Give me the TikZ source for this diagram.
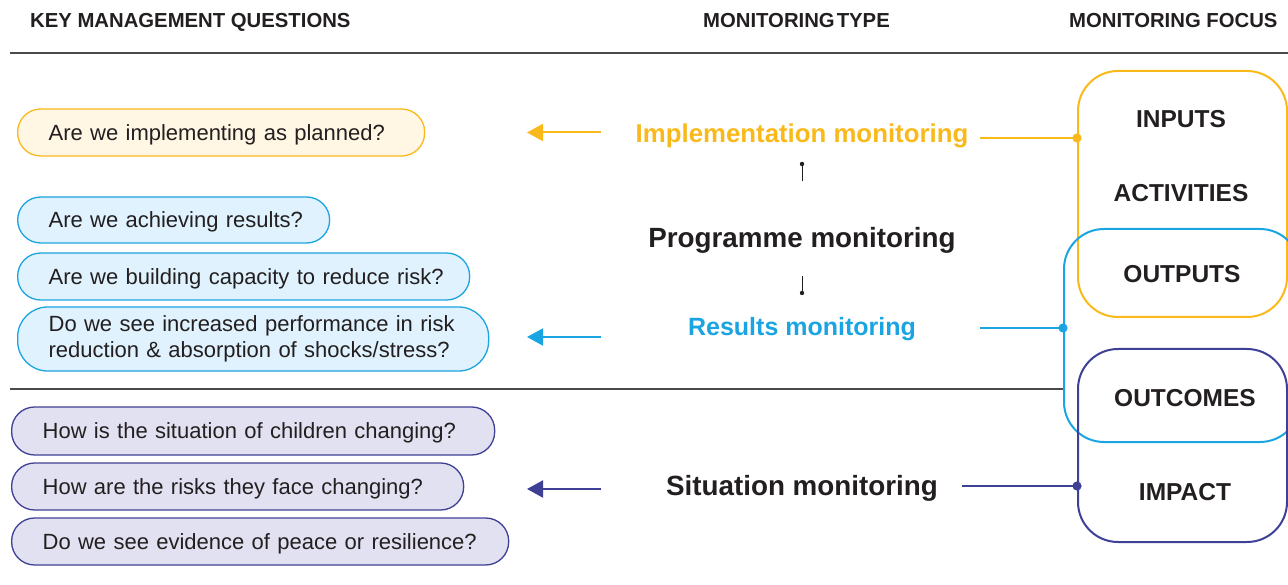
\documentclass[tikz,border=0pt]{standalone}
\usepackage{fontspec}
\setmainfont{Liberation Sans}
\usetikzlibrary{arrows.meta}
\definecolor{uyel}{HTML}{F9B91B}
\definecolor{uyelfill}{HTML}{FFF6E3}
\definecolor{ublue}{HTML}{1AA5E2}
\definecolor{ubluefill}{HTML}{DFF2FD}
\definecolor{upur}{HTML}{3E4095}
\definecolor{upurfill}{HTML}{E2E1F1}
\definecolor{qtext}{HTML}{231F20}
\definecolor{rulegray}{HTML}{4A4A4A}
\begin{document}
\begin{tikzpicture}[x=1pt,y=-1pt,
  hd/.style={font=\bfseries\fontsize{20.3}{22}\selectfont, anchor=base west, inner sep=0, text=qtext},
  qbox/.style={draw, rounded corners=23, anchor=west, align=left, inner xsep=31, inner ysep=0,
     font=\fontsize{22}{26}\selectfont, text=qtext, line width=1.3, text depth=0pt},
  ybox/.style={qbox, draw=uyel, fill=uyelfill},
  bbox/.style={qbox, draw=ublue, fill=ubluefill},
  pbox/.style={qbox, draw=upur, fill=upurfill},
  mt/.style={inner sep=0, anchor=base},
  focus/.style={draw, rounded corners=40, line width=2, inner sep=0},
  rl/.style={font=\bfseries\fontsize{24.5}{28}\selectfont, inner sep=0, text=qtext, anchor=base},
  qarrow/.style={line width=2, -{Triangle[length=16pt, width=17pt]}},
  link/.style={line width=2},
]
\useasboundingbox (0,0) rectangle (1288,585);
\clip (0,0) rectangle (1288,585);

% headers
\node[hd] (h1) at (30,28) {KEY MANAGEMENT QUESTIONS};
\node[hd] (h2) at (703,28) {MONITORING\hspace{2pt}TYPE};
\node[hd] (h3) at (1069,28) {MONITORING FOCUS};
\draw[rulegray, line width=1.5] (10,53) -- (1288,53);

% focus boxes
\node[focus, draw=uyel, minimum width=209, minimum height=246] (fy) at (1182.5,194) {};
\node[focus, draw=ublue, minimum width=236, minimum height=213] (fb) at (1182,335.5) {};
\node[focus, draw=upur, minimum width=209, minimum height=193] (fp) at (1182.5,445.5) {};

\node[rl] (inputs) at (1181,127.5) {INPUTS};
\node[rl] (activities) at (1181,201.5) {ACTIVITIES};
\node[rl] (outputs) at (1182,282.5) {OUTPUTS};
\node[rl] (outcomes) at (1185,406.5) {OUTCOMES};
\node[rl] (impact) at (1185,500.5) {IMPACT};

% middle rule
\draw[rulegray, line width=1.2] (10,389) -- (10,389 -| fb.west);

% questions
\node[ybox, minimum width=407, minimum height=47, text width=345] (q1) at (17,132.5) {\mbox{Are we implementing as planned?}};
\node[bbox, minimum width=312, minimum height=46, text width=250] (q2) at (17,220) {\mbox{Are we achieving results?}};
\node[bbox, minimum width=452, minimum height=47, text width=390] (q3) at (17,276.5) {\mbox{Are we building capacity to reduce risk?}};
\node[bbox, rounded corners=30, minimum width=471, minimum height=64, text width=409, text depth=] (q4) at (17,339) {\mbox{Do we see increased performance in risk}\\\mbox{reduction \& absorption of shocks/stress?}};
\node[pbox, minimum width=483, minimum height=48, text width=421] (q5) at (11,431) {\mbox{How is the situation of children changing?}};
\node[pbox, minimum width=452, minimum height=47, text width=390] (q6) at (11,486.5) {\mbox{How are the risks they face changing?}};
\node[pbox, minimum width=497, minimum height=47, text width=435] (q7) at (11,541.5) {\mbox{Do we see evidence of peace or resilience?}};

% monitoring types
\node[mt, text=uyel, font=\bfseries\fontsize{25.8}{30}\selectfont] (impl) at (802,142.5) {Implementation monitoring};
\node[mt, text=qtext, font=\bfseries\fontsize{27.8}{30}\selectfont] (prog) at (802,248) {Programme monitoring};
\node[mt, text=ublue, font=\bfseries\fontsize{25}{30}\selectfont] (res) at (802,335) {Results monitoring};
\node[mt, text=qtext, font=\bfseries\fontsize{27.8}{30}\selectfont] (sit) at (802,495) {Situation monitoring};

% small connectors
\coordinate (pt1) at (802,181.5);
\coordinate (pt2) at (802,164);
\coordinate (pb1) at (802,276);
\coordinate (pb2) at (802,293);
\draw[qtext, line width=1] (pt1) -- (pt2);
\fill[qtext] (pt2) circle (2.2);
\draw[qtext, line width=1] (pb1) -- (pb2);
\fill[qtext] (pb2) circle (2.2);

% arrows to questions
\coordinate (ay1) at (601,132.5);
\coordinate (ay2) at (527,132.5);
\coordinate (ab1) at (601,337);
\coordinate (ab2) at (527,337);
\coordinate (ap1) at (601,489);
\coordinate (ap2) at (527,489);
\draw[qarrow, uyel] (ay1) -- (ay2);
\draw[qarrow, ublue] (ab1) -- (ab2);
\draw[qarrow, upur] (ap1) -- (ap2);

% links to focus boxes
\coordinate (ly) at (980,138);
\coordinate (lb) at (980,328);
\coordinate (lp) at (962,486);
\draw[link, uyel] (ly) -- (ly -| fy.west);
\fill[uyel] (ly -| fy.west) circle (4.6);
\draw[link, ublue] (lb) -- (lb -| fb.west);
\fill[ublue] (lb -| fb.west) circle (4.6);
\draw[link, upur] (lp) -- (lp -| fp.west);
\fill[upur] (lp -| fp.west) circle (4.6);
\end{tikzpicture}
\end{document}
